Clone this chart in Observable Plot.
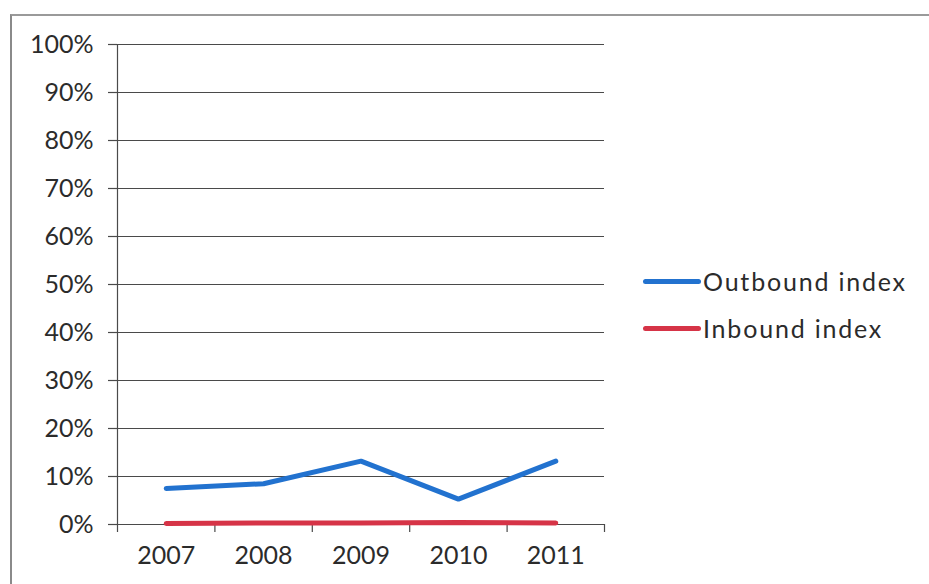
<!DOCTYPE html>
<html>
<head>
<meta charset="utf-8">
<script src="https://cdn.jsdelivr.net/npm/d3@7"></script>
<script src="https://cdn.jsdelivr.net/npm/@observablehq/plot@0.6"></script>
<style>
  html, body { margin: 0; padding: 0; background: #fff; }
  #wrap { position: relative; width: 929px; height: 584px; overflow: hidden; font-family: Lato, "Open Sans", sans-serif; }
  #frame { position: absolute; left: 10px; top: 14px; width: 940px; height: 600px;
           border-left: 2px solid #8a8a8a; border-top: 2px solid #9a9a9a; box-sizing: border-box; }
  #chart { position: absolute; left: 0; top: 0; }
  .legend { position: absolute; left: 643px; display: flex; align-items: center; color: #2b2b2b; font-size: 25px; letter-spacing: 1.8px; }
  .legend .sw { width: 58px; height: 5px; border-radius: 3px; margin-right: 2px; }
</style>
</head>
<body>
<div id="wrap">
  <div id="frame"></div>
  <div id="chart"></div>
  <div id="legend"></div>
</div>
<script>
// Yearly index values (share of total)
const years = [2007, 2008, 2009, 2010, 2011];
const outbound = [0.075, 0.085, 0.132, 0.053, 0.132];
const inbound = [0.002, 0.003, 0.003, 0.004, 0.003];
const seriesNames = ["Outbound index", "Inbound index"];
const seriesColors = ["#2272cf", "#d63447"];
const yTicks = d3.range(0, 11).map(i => i / 10);

const rows = [];
years.forEach((y, i) => {
  rows.push({year: y, value: outbound[i], series: seriesNames[0]});
  rows.push({year: y, value: inbound[i], series: seriesNames[1]});
});

// category boundaries on the year axis
const bounds = [years[0] - 0.5, ...years.map(y => y + 0.5)];
const ink = "#4a4a4a";

const plot = Plot.plot({
  width: 929,
  height: 584,
  marginLeft: 117,
  marginRight: 325,
  marginTop: 44,
  marginBottom: 60,
  style: {fontFamily: "Lato, 'Open Sans', sans-serif", background: "transparent", color: "#2b2b2b"},
  x: {domain: [bounds[0], bounds[bounds.length - 1]]},
  y: {domain: [0, 1]},
  color: {domain: seriesNames, range: seriesColors},
  marks: [
    Plot.gridY(yTicks, {stroke: ink, strokeOpacity: 1, strokeWidth: 1.2}),
    Plot.axisY(yTicks, {tickFormat: d3.format(".0%"), tickSize: 9, tickPadding: 15, fontSize: 25, stroke: ink, strokeWidth: 1.2, label: null}),
    Plot.ruleX([bounds[0]], {stroke: ink, strokeWidth: 1.2}),
    Plot.axisX(bounds, {tickSize: 8, tickFormat: () => "", stroke: ink, strokeWidth: 1.2, label: null}),
    Plot.axisX(years, {tickSize: 0, tickPadding: 22, tickFormat: d => String(d), fontSize: 25, label: null}),
    Plot.line(rows, {x: "year", y: "value", z: "series", stroke: "series", strokeWidth: 5, strokeLinecap: "round", strokeLinejoin: "miter"})
  ]
});
document.getElementById("chart").appendChild(plot);

// legend entries to the right of the plot
const legend = document.getElementById("legend");
const legendTop = [266, 313];
seriesNames.forEach((name, i) => {
  const row = document.createElement("div");
  row.className = "legend";
  row.style.top = legendTop[i] + "px";
  row.innerHTML = `<div class="sw" style="background:${seriesColors[i]}"></div><span>${name}</span>`;
  legend.appendChild(row);
});
</script>
</body>
</html>
